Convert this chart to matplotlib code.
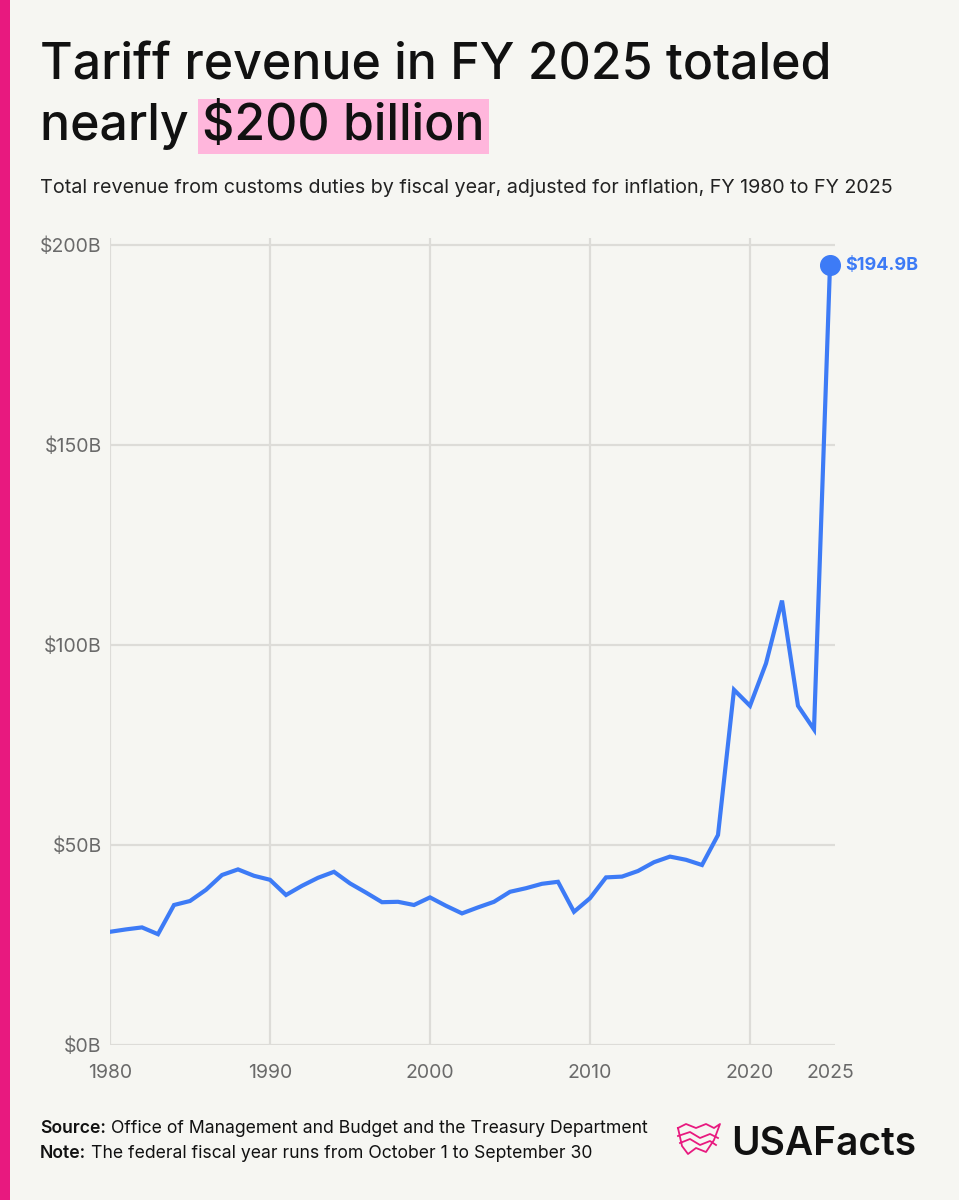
import numpy as np
import matplotlib
matplotlib.use("Agg")
import matplotlib.pyplot as plt
from matplotlib.patches import Rectangle

# Data: customs duties by fiscal year, inflation adjusted, billions of dollars
years = list(range(1980, 2026))
revenue = [28.3, 28.9, 29.4, 27.7, 35.0, 36.0, 38.8, 42.5, 43.9, 42.3,
           41.3, 37.5, 39.8, 41.8, 43.3, 40.4, 38.1, 35.7, 35.8, 35.0,
           36.9, 34.8, 32.9, 34.4, 35.8, 38.3, 39.2, 40.3, 40.8, 33.3,
           36.7, 41.9, 42.1, 43.5, 45.7, 47.1, 46.3, 45.0, 52.5, 88.8,
           84.8, 95.4, 111.1, 84.8, 78.9, 194.9]
ytick_vals = [0, 50, 100, 150, 200]
ytick_labels = ["$0B", "$50B", "$100B", "$150B", "$200B"]
xtick_vals = [1980, 1990, 2000, 2010, 2020, 2025]
grid_years = [1980, 1990, 2000, 2010, 2020]

bg = "#f6f6f2"
blue = "#3d7bf6"
pink = "#e8197f"
grid_c = "#dddcd8"
tick_c = "#6a6a6a"
font = "Inter"

W, H = 959, 1200
fig = plt.figure(figsize=(W / 100, H / 100), dpi=100, facecolor=bg)

# pink strip on the left edge
fig.patches.append(Rectangle((0, 0), 10 / W, 1, transform=fig.transFigure,
                             facecolor=pink, edgecolor="none"))

# plot area in pixel terms
left, right = 110, 835
bottom, top = 1045, 238
ax = fig.add_axes([left / W, 1 - bottom / H, (right - left) / W, (bottom - top) / H])
ax.set_facecolor(bg)
ax.set_xlim(1980, 1980 + (right - left) / 16)
ax.set_ylim(0, (bottom - top) / 4)
for s in ax.spines.values():
    s.set_visible(False)

for yv in ytick_vals:
    ax.plot([1980, ax.get_xlim()[1]], [yv, yv], color=grid_c, lw=1.6, zorder=1)
for xv in grid_years:
    ax.axvline(xv, color=grid_c, lw=1.6, zorder=1)

ax.plot(years, revenue, color=blue, lw=3.0, solid_joinstyle="miter", zorder=3)
ax.scatter([years[-1]], [revenue[-1]], s=200, color=blue, zorder=4, clip_on=False)
ax.annotate(f"${revenue[-1]}B", (years[-1], revenue[-1]), xytext=(11, 0),
            textcoords="offset points", va="center", ha="left",
            color=blue, fontsize=13, fontweight="bold", family=font)

ax.set_yticks(ytick_vals)
ax.set_yticklabels(ytick_labels)
ax.set_xticks(xtick_vals)
ax.set_xticklabels([str(x) for x in xtick_vals])
ax.tick_params(length=0, colors=tick_c, labelsize=14)
ax.tick_params(axis="x", pad=14)
ax.tick_params(axis="y", pad=6)
for lab in ax.get_xticklabels() + ax.get_yticklabels():
    lab.set_family(font)

# title with highlighted phrase
fig.text(40 / W, 1 - 80 / H, "Tariff revenue in FY 2025 totaled", fontsize=36,
         family=font, fontweight="medium", color="#111111", va="baseline")
t1 = fig.text(40 / W, 1 - 140 / H, "nearly ", fontsize=36, family=font,
              fontweight="medium", color="#111111", va="baseline")
fig.canvas.draw()
r = fig.canvas.get_renderer()
bb = t1.get_window_extent(r)
fig.text(bb.x1 / W, 1 - 140 / H, "$200 billion", fontsize=36, family=font,
         fontweight="medium", color="#111111", va="baseline",
         bbox=dict(facecolor="#ffb6dc", edgecolor="none", pad=3))

fig.text(40 / W, 1 - 193 / H,
         "Total revenue from customs duties by fiscal year, adjusted for inflation, FY 1980 to FY 2025",
         fontsize=14.2, family=font, color="#222222", va="baseline")

# footer
for yy, bold, rest in [(1133, "Source:", " Office of Management and Budget and the Treasury Department"),
                       (1158, "Note:", " The federal fiscal year runs from October 1 to September 30")]:
    tb = fig.text(40 / W, 1 - yy / H, bold, fontsize=12.7, family=font,
                  fontweight="semibold", color="#111111", va="baseline")
    fig.canvas.draw()
    b = tb.get_window_extent(fig.canvas.get_renderer())
    fig.text(b.x1 / W, 1 - yy / H, rest, fontsize=12.7, family=font,
             color="#111111", va="baseline")

# logo: pink outline mark and wordmark
lx = np.array([678, 686, 696, 706, 714, 720, 714, 706, 696, 688, 682, 678])
ly = np.array([1128, 1124, 1128, 1124, 1128, 1124, 1140, 1152, 1148, 1154, 1146, 1128])
fig.add_artist(plt.Line2D(lx / W, 1 - ly / H, color=pink, lw=1.3))
fig.add_artist(plt.Line2D(np.array([678, 690, 700, 710, 718]) / W,
                          1 - np.array([1136, 1132, 1138, 1134, 1138]) / H, color=pink, lw=1.3))
fig.add_artist(plt.Line2D(np.array([680, 690, 700, 710, 716]) / W,
                          1 - np.array([1143, 1139, 1145, 1141, 1145]) / H, color=pink, lw=1.3))
fig.text(731 / W, 1 - 1155 / H, "USAFacts", fontsize=28, family=font,
         fontweight="semibold", color="#111111", va="baseline")

fig.savefig("out.png", dpi=100, facecolor=bg)
